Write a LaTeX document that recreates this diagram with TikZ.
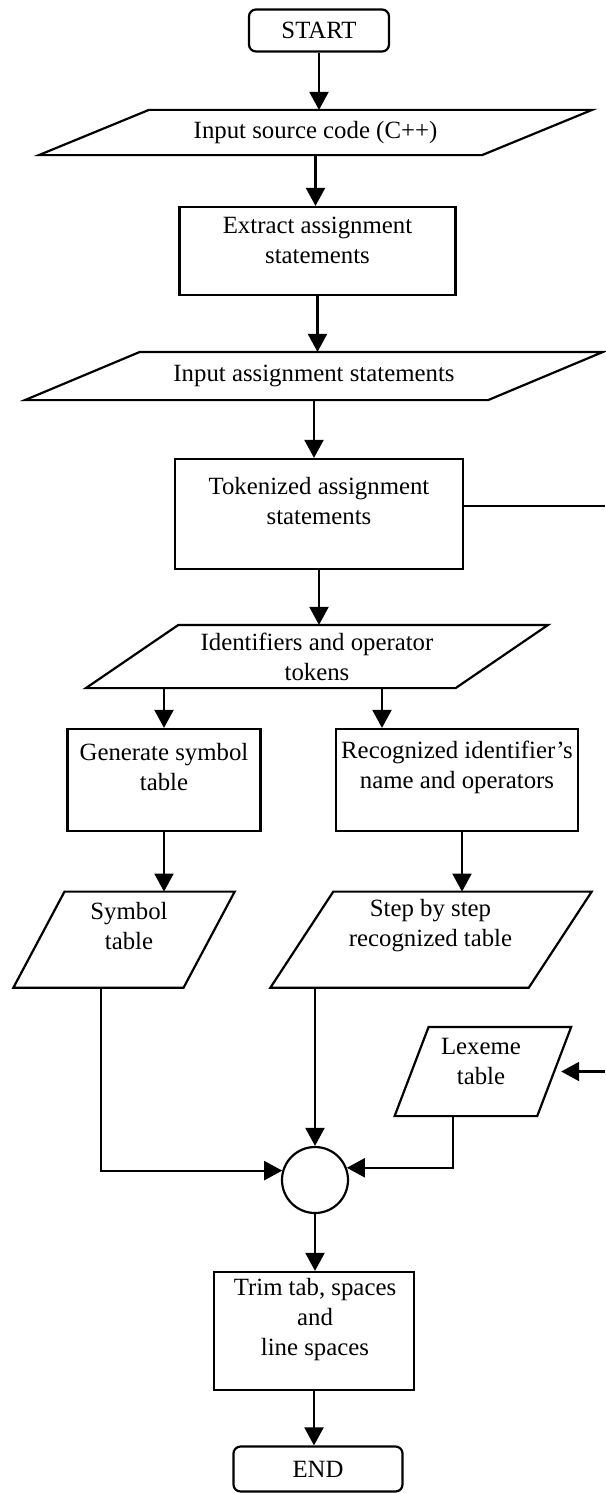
\documentclass[tikz,border=0pt]{standalone}
\usepackage{fontspec}
\setmainfont{Liberation Serif}
\usetikzlibrary{arrows.meta}
\begin{document}
\begin{tikzpicture}[x=0.5pt,y=-0.5pt,line width=1.1pt,
font=\fontsize{12.4}{15}\selectfont,
arr/.style={-{Triangle[width=9.5pt,length=9pt]}},
termbox/.style={draw,rounded corners=3.5pt,minimum height=21pt,inner sep=0pt},
procbox/.style={draw,inner sep=0pt},
iobox/.style={inner sep=0pt}]
\useasboundingbox (0,0) rectangle (605,1493);

\node[termbox,minimum width=70pt] (start) at (319,30.5) {START};
\node[iobox,minimum width=275.5pt,minimum height=21.5pt] (src) at (315.5,132.5) {Input source code (C++)};
\node[procbox,minimum width=138pt,minimum height=44pt] (extract) at (317.5,251) {};
\node[align=center] (extractlbl) at (317.5,240) {Extract assignment\\statements};
\node[iobox,minimum width=288pt,minimum height=23pt] (asg) at (314,376) {Input assignment statements};
\node[procbox,minimum width=144pt,minimum height=55pt] (tok) at (319,514) {};
\node[align=center] (toklbl) at (319,501) {Tokenized assignment\\statements};
\node[iobox,minimum width=230pt,minimum height=30.5pt,align=center] (ident) at (317,656.5) {Identifiers and operator\\tokens};

\node[procbox,minimum width=96.5pt,minimum height=51pt] (gen) at (164,780) {};
\node[align=center] (genlbl) at (164,767.5) {Generate symbol\\table};
\node[procbox,minimum width=121pt,minimum height=51pt] (recog) at (457,780) {};
\node[align=center] (recoglbl) at (457,767.5) {Recognized identifier’s\\name and operators};

\node[iobox,minimum width=109.6pt,minimum height=47pt] (sym) at (124,939.7) {};
\node[align=center] (symlbl) at (129,926) {Symbol\\table};
\node[iobox,minimum width=159.6pt,minimum height=47pt] (step) at (431,939.7) {};
\node[align=center] (steplbl) at (430.5,926) {Step by step\\recognized table};
\node[iobox,minimum width=87.2pt,minimum height=43.5pt] (lex) at (482.9,1071.5) {};
\node[align=center] (lexlbl) at (481,1061) {Lexeme\\table};

\foreach \n/\e in {src/55pt,asg/57.5pt,ident/46.25pt,sym/25.6pt,step/31.5pt,lex/17pt}
{
\draw (\n.south west) -- ([xshift=\e]\n.north west) -- (\n.north east) -- ([xshift=-\e]\n.south east) -- cycle;
}

\node[draw,circle,minimum size=33pt,inner sep=0pt] (circ) at (315,1180) {};
\node[procbox,minimum width=100pt,minimum height=59pt] (trim) at (314,1331) {};
\node[align=center] (trimlbl) at (315,1320) {Trim tab, spaces\\and\\line spaces};
\node[termbox,minimum width=84.5pt,minimum height=22.5pt] (finish) at (318,1469) {END};

\coordinate (rx) at (382,0);
\coordinate (sx) at (462,0);
\coordinate (lx) at (101,0);
\coordinate (kx) at (453,0);
\coordinate (rtop) at (605,506);
\coordinate (rlow) at (605,1071.5);

\draw[arr] (start) -- (start |- src.north);
\draw[arr] (src.south) -- (src.south |- extract.north);
\draw[arr] (extract) -- (extract |- asg.north);
\draw[arr] (asg.south) -- (asg.south |- tok.north);
\draw (tok.east |- rtop) -- (rtop);
\draw[arr] (tok) -- (tok |- ident.north);
\draw[arr] (gen |- ident.south) -- (gen.north);
\draw[arr] (rx |- ident.south) -- (rx |- recog.north);
\draw[arr] (gen) -- (gen |- sym.north);
\draw[arr] (sx |- recog.south) -- (sx |- step.north);
\draw[arr] (lx |- sym.south) |- (circ.164);
\draw[arr] (circ |- step.south) -- (circ);
\draw[arr] (rlow) -- ([xshift=-5pt]lex.east);
\draw[arr] (kx |- lex.south) |- (circ.21);
\draw[arr] (circ) -- (circ |- trim.north);
\draw[arr] (trim) -- (trim |- finish.north);
\end{tikzpicture}
\end{document}
